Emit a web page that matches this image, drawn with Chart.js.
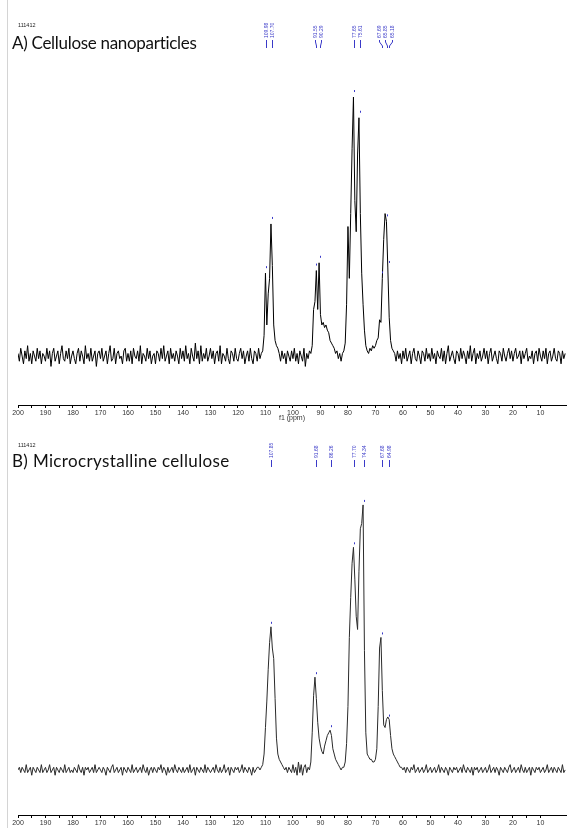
<!DOCTYPE html>
<html>
<head>
<meta charset="utf-8">
<script src="https://cdn.jsdelivr.net/npm/chart.js@4.4.1/dist/chart.umd.min.js"></script>
<style>
  html,body{margin:0;padding:0;background:#fff;}
  body{width:574px;height:828px;position:relative;overflow:hidden;}
  .edge{position:absolute;left:7px;top:0;width:1px;height:828px;background:#d4d4d4;}
  .sid{position:absolute;left:18px;font:5.5px "Liberation Sans",sans-serif;line-height:6px;color:#222;}
  .ttl{position:absolute;left:12px;font:17px Lato,sans-serif;line-height:17px;letter-spacing:-0.3px;color:#111;white-space:nowrap;}
  canvas{position:absolute;left:0;}
</style>
</head>
<body>
<div class="edge"></div>
<canvas id="cA" width="574" height="430" style="top:0"></canvas>
<canvas id="cB" width="574" height="398" style="top:430px"></canvas>
<div class="sid" style="top:22px">111412</div>
<div class="ttl" style="top:34px">A) Cellulose nanoparticles</div>
<div class="sid" style="top:442px">111412</div>
<div class="ttl" style="top:452px;letter-spacing:0.35px">B) Microcrystalline cellulose</div>
<script>
// spectra sampled every 0.5 ppm, starting at 200 ppm going down to 1 ppm
const ppmStart = 200, ppmStep = 0.5;

// A) cellulose nanoparticles, intensity (tallest peak = 100)
const specA = [
  1,-2,3,0,-3,2,-1,4,-2,1,-3,2,0,-2,3,-1,2,-3,1,0,        // 200-190.5
  -2,3,-1,2,-4,1,3,-2,0,2,-3,1,4,-1,-2,2,-1,3,-3,0,       // 190-180.5
  2,-1,-3,1,3,-2,2,0,-3,4,-1,1,-2,3,-2,0,2,-4,1,2,        // 180-170.5
  -1,3,-2,0,2,-3,1,4,-2,-1,3,-3,1,2,-1,0,-3,2,3,-2,       // 170-160.5
  1,-2,2,-3,3,0,-1,2,-2,4,-3,1,0,-2,3,-1,2,-3,0,1,        // 160-150.5
  -3,2,1,-2,3,-1,4,-2,0,2,-3,3,-1,1,-2,2,0,-3,3,-1,       // 150-140.5
  2,-2,4,-1,1,-3,3,0,-2,5,-1,2,-3,4,-2,1,-1,3,-2,0,       // 140-130.5
  3,-1,2,-3,1,2,-2,4,-3,1,0,-2,3,-1,-3,2,1,-2,3,-1,       // 130-120.5
  -2,1,3,-1,2,-3,0,2,-2,3,-1,-3,2,1,-2,3,-1,1,2,8,        // 120-110.5
  32,12,24,30,51,35,12,6,4,3,1,-2,2,-1,1,-3,2,0,-2,2,     // 110-100.5
  -1,3,-2,1,-3,2,0,-2,3,-4,1,-1,2,1,4,18,21,33,18,36,     // 100-90.5
  16,12,13,11,12,10,9,6,5,4,3,1,2,-1,1,-2,1,2,5,20,       // 90-80.5
  50,30,55,80,100,60,48,78,92,55,32,20,10,4,2,1,3,2,4,3,  // 80-70.5
  4,6,7,14,13,30,45,55,52,34,15,6,3,2,1,-2,2,-1,1,-3,     // 70-60.5
  2,-1,3,-2,0,2,-3,1,3,-1,-2,2,0,-3,2,1,-2,3,-1,1,        // 60-50.5
  -2,3,-1,1,-3,2,0,-1,3,-2,2,-3,1,4,-2,0,2,-1,-3,2,       // 50-40.5
  1,-2,3,-1,2,0,-3,2,-1,4,-2,1,3,-3,1,-1,2,-2,0,3,        // 40-30.5
  -1,2,-3,1,3,-2,0,2,-1,-3,2,1,-2,3,0,-2,1,3,-1,2,        // 30-20.5
  -2,1,3,-1,0,2,-3,2,-1,1,3,-2,0,-1,2,-3,1,2,-2,3,        // 20-10.5
  0,-2,2,-1,3,-3,1,2,-2,0,3,-1,-2,2,1,-3,2,-1,1           // 10-1
];

// B) microcrystalline cellulose
const specB = [
  0,1,-1,1,0,-1,2,-1,0,1,-2,1,0,-1,1,0,-1,2,-1,0,         // 200-190.5
  1,-1,0,2,-1,0,1,-2,1,0,-1,1,0,-1,2,-1,0,1,-1,0,         // 190-180.5
  -1,1,0,-1,2,0,-1,1,-2,1,0,1,-1,0,1,-1,2,-1,0,1,         // 180-170.5
  0,-1,1,0,-2,1,0,-1,1,2,-1,0,1,-1,0,1,-2,1,0,-1,         // 170-160.5
  1,0,-1,2,-1,0,1,-1,0,1,-1,2,0,-1,1,-2,0,1,-1,1,         // 160-150.5
  0,-1,1,0,2,-1,1,0,-2,1,-1,0,1,-1,2,0,-1,1,0,-1,         // 150-140.5
  1,-1,0,1,-1,2,-1,0,1,-2,1,0,-1,1,0,-1,2,-1,1,0,         // 140-130.5
  -1,0,1,-1,2,0,-1,1,-1,0,2,-1,0,1,-2,1,0,-1,1,0,         // 130-120.5
  1,-1,0,2,-1,1,0,-1,1,0,-2,1,-1,0,1,1,0,1,2,6,           // 120-110.5
  16,26,38,48,54,46,42,27,12,6,4,3,2,1,0,1,-1,1,0,-1,     // 110-100.5
  2,-1,1,-2,3,-1,2,-2,1,2,-1,1,0,3,14,28,35,27,18,12,     // 100-90.5
  9,7,6,9,11,13,14,15,13,8,6,4,3,2,1,0,1,1,3,10,          // 90-80.5
  24,50,65,78,84,72,58,53,75,91,93,100,45,14,6,5,4,4,3,3, // 80-70.5
  4,8,24,46,50,30,17,16,19,20,19,13,8,6,5,4,3,2,1,1,      // 70-60.5
  0,1,-1,1,0,-1,1,0,2,-1,0,1,-1,0,1,-1,0,2,-1,0,          // 60-50.5
  1,-1,0,1,-1,0,2,-1,1,0,-1,1,0,-2,1,0,-1,1,0,1,          // 50-40.5
  -1,0,1,-1,2,0,-1,1,0,-1,1,-2,1,0,1,-1,0,1,-1,0,         // 40-30.5
  1,-1,0,2,-1,0,1,-1,1,0,-2,1,0,-1,1,0,-1,1,2,-1,         // 30-20.5
  0,1,-1,0,1,-1,2,0,-1,1,-1,0,1,-2,1,0,-1,1,0,1,          // 20-10.5
  -1,0,1,-1,0,2,-1,0,1,-1,1,0,-1,1,0,-1,2,-1,0            // 10-1
];

// picked peaks (ppm)
const peaksA = [109.98, 107.70, 91.55, 90.29, 77.65, 75.61, 67.69, 65.85, 65.18];
const peaksB = [107.85, 91.68, 86.26, 77.70, 74.34, 67.68, 64.98];

function toPoints(vals){
  return vals.map((v,i)=>({x: ppmStart - i*ppmStep, y: v}));
}

// spread label positions so close peaks don't overlap
function spread(xs, gap){
  const out = xs.slice();
  let i = 0;
  while(i < xs.length){
    let j = i;
    while(j+1 < xs.length && xs[j+1]-xs[j] < gap) j++;
    if(j > i){
      const mid = (xs[i]+xs[j])/2;
      const n = j-i;
      const w = Math.max(n*gap, xs[j]-xs[i]);
      for(let k=i;k<=j;k++) out[k] = mid - w/2 + (k-i)*w/n;
    }
    i = j+1;
  }
  return out;
}

const peakMarks = {
  id: 'peakMarks',
  afterDatasetsDraw(chart, args, o){
    const {ctx, scales:{x, y}} = chart;
    const pts = chart.data.datasets[0].data;
    const xs = o.peaks.map(p=>x.getPixelForValue(p));
    const tx = spread(xs, o.gap);
    ctx.save();
    ctx.strokeStyle = o.color; ctx.fillStyle = o.color; ctx.lineWidth = 1;
    ctx.font = o.font;
    o.peaks.forEach((p,i)=>{
      let top = -Infinity;
      pts.forEach(d=>{ if(Math.abs(d.x-p) <= 0.45 && d.y > top) top = d.y; });
      const py = y.getPixelForValue(top);
      const px = Math.round(xs[i])+0.5;
      ctx.beginPath(); ctx.moveTo(px, py-o.markGap-2); ctx.lineTo(px, py-o.markGap); ctx.stroke();
      const lx = Math.round(tx[i])+0.5;
      ctx.beginPath();
      ctx.moveTo(lx, o.lineTop); ctx.lineTo(lx, o.lineTop+2);
      ctx.lineTo(px, o.lineBottom-2); ctx.lineTo(px, o.lineBottom);
      ctx.stroke();
      ctx.save();
      ctx.translate(lx, o.textBottom); ctx.rotate(-Math.PI/2);
      ctx.textAlign = 'left'; ctx.textBaseline = 'middle';
      ctx.fillText(p.toFixed(2), 0, 0);
      ctx.restore();
    });
    ctx.restore();
  }
};

function makeChart(id, vals, peaks, cfg){
  return new Chart(document.getElementById(id), {
    type: 'line',
    data: { datasets: [{ data: toPoints(vals), borderColor: cfg.line, borderWidth: 1, pointRadius: 0, tension: 0, fill: false }] },
    plugins: [peakMarks],
    options: {
      responsive: false, animation: false,
      layout: { padding: { top: cfg.top, left: 18, right: 8, bottom: cfg.bottom } },
      plugins: {
        legend: { display: false }, tooltip: { enabled: false },
        peakMarks: { peaks, gap: 6.3, color: '#3a3ac8', font: '5px "Liberation Sans"',
          textBottom: cfg.textBottom, lineTop: cfg.lineTop, lineBottom: cfg.lineBottom, markGap: cfg.markGap }
      },
      scales: {
        x: {
          type: 'linear', reverse: true, min: 0.7, max: 200,
          afterFit: s => { s.height = cfg.axisH; },
          ticks: { stepSize: 5, autoSkip: false, maxRotation: 0, padding: 1, color: '#333',
            font: { size: 7, family: 'Liberation Sans' },
            callback: v => (v % 10 === 0 && v >= 10) ? v : '' },
          grid: { drawOnChartArea: false, drawTicks: true, tickLength: 3,
            color: c => (c.tick && Math.abs(c.tick.value % 5) > 0.01) ? 'rgba(0,0,0,0)' : '#000' },
          border: { display: true, color: '#000', width: 1 },
          title: { display: cfg.title, text: 'f1 (ppm)', color: '#333', padding: 0,
            font: { size: 7, family: 'Liberation Sans' } }
        },
        y: { display: false, min: cfg.ymin, max: cfg.ymax }
      }
    }
  });
}

makeChart('cA', specA, peaksA, { line: '#000', top: 60, bottom: 8, axisH: 17, title: true,
  ymin: -18.9, ymax: 114.3, textBottom: 38, lineTop: 40, lineBottom: 48, markGap: 5 });
makeChart('cB', specB, peaksB, { line: '#2a2a2a', top: 50, bottom: 0, axisH: 13, title: false,
  ymin: -17.0, ymax: 109.4, textBottom: 28, lineTop: 30, lineBottom: 37, markGap: 3 });
</script>
</body>
</html>
